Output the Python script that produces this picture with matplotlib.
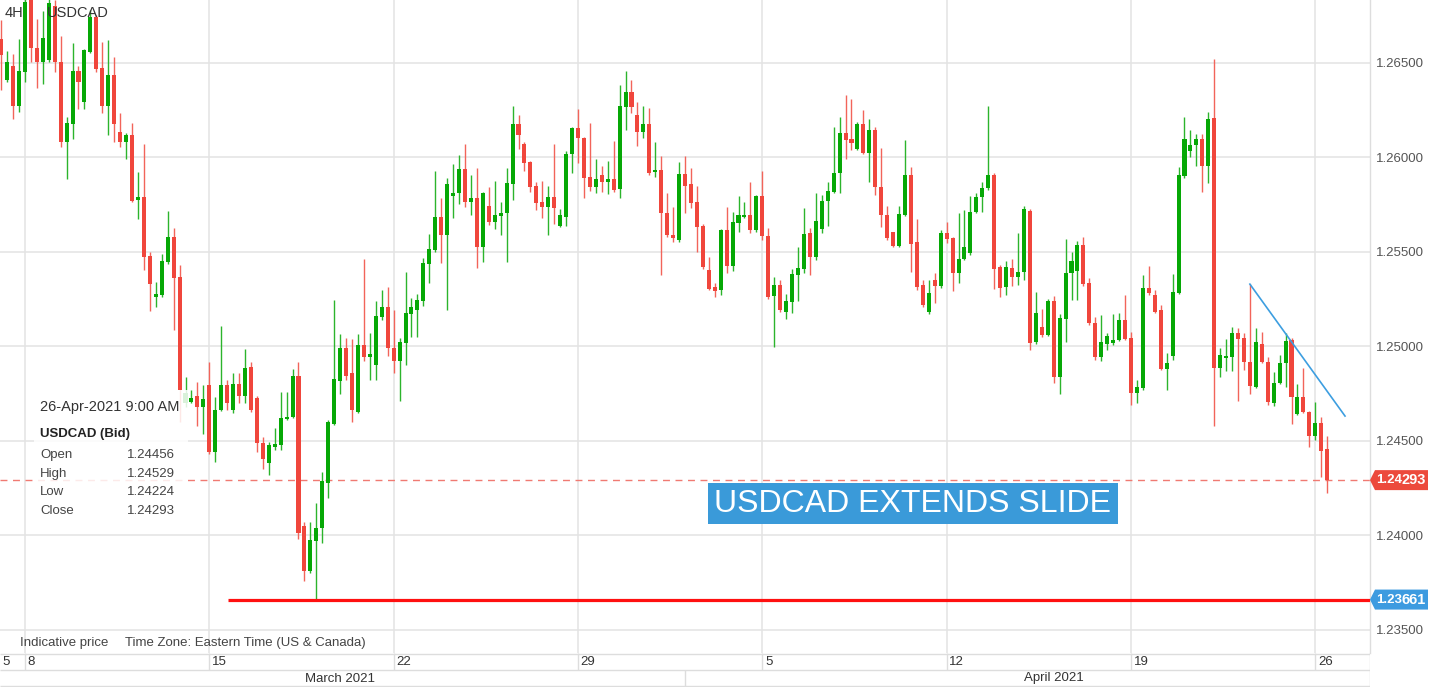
import matplotlib
matplotlib.use("Agg")
import matplotlib.pyplot as plt
from matplotlib.patches import Rectangle, Polygon
from matplotlib.transforms import IdentityTransform
import numpy as np

plt.rcParams['font.family'] = ['Liberation Sans', 'DejaVu Sans']

# 4H USDCAD candles, 5-Mar-2021 .. 26-Apr-2021 9:00 AM
opens = [
    1.26627, 1.26410, 1.26484, 1.26272, 1.26452, 1.26844, 1.26579, 1.26505, 1.26516, 1.26801,
    1.26505, 1.26082, 1.26177, 1.26457, 1.26293, 1.26558, 1.26743, 1.26473, 1.26272, 1.26436,
    1.26135, 1.26082, 1.26119, 1.25775, 1.25791, 1.25479, 1.25262, 1.25272, 1.25447, 1.25579,
    1.25367, 1.24701, 1.24706, 1.24738, 1.24680, 1.24796, 1.24441, 1.24664, 1.24796, 1.24664,
    1.24801, 1.24738, 1.24891, 1.24727, 1.24489, 1.24383, 1.24468, 1.24478, 1.24616, 1.24627,
    1.24844, 1.24050, 1.23812, 1.23971, 1.24039, 1.24277, 1.24590, 1.24817, 1.24992, 1.24859,
    1.24653, 1.25008, 1.24944, 1.24902, 1.25156, 1.25209, 1.24992, 1.24923, 1.25018, 1.25172,
    1.25193, 1.25240, 1.25436, 1.25510, 1.25685, 1.25590, 1.25796, 1.25812, 1.25939, 1.25764,
    1.25785, 1.25526, 1.25743, 1.25658, 1.25690, 1.25706, 1.25859, 1.26177, 1.26071, 1.25976,
    1.25849, 1.25764, 1.25738, 1.25791, 1.25637, 1.25685, 1.26018, 1.26156, 1.26103, 1.25896,
    1.25844, 1.25907, 1.25870, 1.25886, 1.25833, 1.26267, 1.26346, 1.26225, 1.26135, 1.26177,
    1.25923, 1.25934, 1.25706, 1.25590, 1.25563, 1.25912, 1.25859, 1.25764, 1.25637, 1.25404,
    1.25314, 1.25299, 1.25616, 1.25426, 1.25653, 1.25685, 1.25695, 1.25616, 1.25796, 1.25584,
    1.25267, 1.25325, 1.25182, 1.25235, 1.25378, 1.25410, 1.25600, 1.25473, 1.25621, 1.25770,
    1.25817, 1.25918, 1.26129, 1.26098, 1.26045, 1.26177, 1.26023, 1.26145, 1.25844, 1.25695,
    1.25605, 1.25531, 1.25695, 1.25907, 1.25553, 1.25325, 1.25182, 1.25352, 1.25320, 1.25600,
    1.25574, 1.25389, 1.25463, 1.25494, 1.25711, 1.25791, 1.25838, 1.25907, 1.25420, 1.25314,
    1.25415, 1.25367, 1.25394, 1.25717, 1.25023, 1.25103, 1.25061, 1.25240, 1.24838, 1.25145,
    1.25389, 1.25399, 1.25537, 1.25336, 1.25124, 1.24944, 1.25013, 1.25018, 1.25034, 1.25140,
    1.25045, 1.24754, 1.24780, 1.25309, 1.25272, 1.25193, 1.24881, 1.24949, 1.25283, 1.25902,
    1.26034, 1.26066, 1.26098, 1.25955, 1.26209, 1.24886, 1.24939, 1.24944, 1.25071, 1.25045,
    1.24918, 1.24785, 1.25013, 1.24918, 1.24701, 1.24807, 1.24912, 1.25034, 1.24643, 1.24732,
    1.24653, 1.24526, 1.24595, 1.24456,
]
highs = [
    1.26727, 1.26563, 1.26547, 1.26627, 1.26875, 1.26875, 1.26732, 1.26775, 1.26859, 1.26833,
    1.26643, 1.26214, 1.26605, 1.26484, 1.26574, 1.26780, 1.26754, 1.26611, 1.26621, 1.26531,
    1.26235, 1.26129, 1.26182, 1.25923, 1.26071, 1.25500, 1.25341, 1.25489, 1.25717, 1.25627,
    1.25431, 1.24838, 1.24770, 1.24812, 1.24796, 1.24918, 1.24732, 1.25108, 1.24822, 1.24859,
    1.24859, 1.24986, 1.24918, 1.24740, 1.24521, 1.24494, 1.24568, 1.24759, 1.24759, 1.24881,
    1.24918, 1.24071, 1.24071, 1.24172, 1.24336, 1.24611, 1.25246, 1.25066, 1.25045, 1.25039,
    1.25066, 1.25463, 1.25071, 1.25240, 1.25299, 1.25314, 1.25193, 1.25045, 1.25394, 1.25256,
    1.25277, 1.25468, 1.25595, 1.25928, 1.25785, 1.25891, 1.25965, 1.26013, 1.26071, 1.25907,
    1.25944, 1.25817, 1.25844, 1.25875, 1.25764, 1.25944, 1.26272, 1.26225, 1.26082, 1.25980,
    1.25870, 1.25875, 1.25849, 1.26071, 1.25727, 1.26034, 1.26161, 1.26256, 1.26110, 1.26182,
    1.25992, 1.25955, 1.25981, 1.26087, 1.26383, 1.26457, 1.26410, 1.26293, 1.26272, 1.26262,
    1.26082, 1.26008, 1.25812, 1.25738, 1.25976, 1.26008, 1.25944, 1.25849, 1.25648, 1.25473,
    1.25336, 1.25620, 1.25738, 1.25711, 1.25796, 1.25764, 1.25870, 1.25801, 1.25928, 1.25627,
    1.25367, 1.25352, 1.25277, 1.25410, 1.25526, 1.25732, 1.25627, 1.25812, 1.25801, 1.25870,
    1.26161, 1.26214, 1.26330, 1.26309, 1.26187, 1.26251, 1.26203, 1.26161, 1.26050, 1.25743,
    1.25605, 1.25743, 1.26092, 1.25949, 1.25674, 1.25352, 1.25352, 1.25389, 1.25616, 1.25658,
    1.25580, 1.25706, 1.25722, 1.25796, 1.25812, 1.25870, 1.26272, 1.25918, 1.25431, 1.25452,
    1.25463, 1.25600, 1.25743, 1.25727, 1.25288, 1.25198, 1.25251, 1.25267, 1.25172, 1.25568,
    1.25500, 1.25558, 1.25579, 1.25362, 1.25156, 1.25166, 1.25071, 1.25172, 1.25177, 1.25272,
    1.25076, 1.24822, 1.25378, 1.25426, 1.25299, 1.25219, 1.24965, 1.25383, 1.25949, 1.26214,
    1.26145, 1.26124, 1.26124, 1.26240, 1.26521, 1.24992, 1.25039, 1.25103, 1.25098, 1.25071,
    1.25330, 1.25098, 1.25076, 1.24944, 1.24865, 1.24955, 1.25071, 1.25045, 1.24801, 1.24886,
    1.24660, 1.24706, 1.24627, 1.24529,
]
lows = [
    1.26357, 1.26399, 1.26203, 1.26240, 1.26399, 1.26505, 1.26367, 1.26389, 1.26505, 1.26452,
    1.26055, 1.25886, 1.26098, 1.26256, 1.26256, 1.26553, 1.26452, 1.26235, 1.26119, 1.26082,
    1.26055, 1.25992, 1.25764, 1.25674, 1.25404, 1.25188, 1.25209, 1.25262, 1.25436, 1.25087,
    1.24600, 1.24680, 1.24701, 1.24579, 1.24537, 1.24430, 1.24389, 1.24660, 1.24664, 1.24648,
    1.24701, 1.24701, 1.24653, 1.24441, 1.24352, 1.24320, 1.24452, 1.24452, 1.24611, 1.24620,
    1.23981, 1.23759, 1.23801, 1.23661, 1.23960, 1.24198, 1.24585, 1.24748, 1.24822, 1.24600,
    1.24648, 1.24923, 1.24822, 1.24822, 1.25140, 1.24949, 1.24859, 1.24711, 1.24902, 1.25050,
    1.25050, 1.25214, 1.25336, 1.25500, 1.25441, 1.25193, 1.25680, 1.25754, 1.25738, 1.25695,
    1.25415, 1.25447, 1.25643, 1.25621, 1.25590, 1.25447, 1.25775, 1.26045, 1.25928, 1.25817,
    1.25722, 1.25680, 1.25590, 1.25648, 1.25630, 1.25637, 1.25918, 1.25971, 1.25785, 1.25822,
    1.25812, 1.25817, 1.25807, 1.25820, 1.25785, 1.26145, 1.26235, 1.26061, 1.26103, 1.25907,
    1.25896, 1.25378, 1.25579, 1.25553, 1.25553, 1.25706, 1.25732, 1.25500, 1.25410, 1.25300,
    1.25262, 1.25272, 1.25389, 1.25399, 1.25605, 1.25680, 1.25600, 1.25605, 1.25563, 1.25251,
    1.24997, 1.25182, 1.25145, 1.25177, 1.25240, 1.25389, 1.25378, 1.25457, 1.25600, 1.25637,
    1.25812, 1.25812, 1.25992, 1.26039, 1.26039, 1.26020, 1.25870, 1.25801, 1.25632, 1.25563,
    1.25526, 1.25526, 1.25690, 1.25394, 1.25299, 1.25209, 1.25172, 1.25230, 1.25309, 1.25547,
    1.25293, 1.25336, 1.25460, 1.25484, 1.25706, 1.25711, 1.25828, 1.25304, 1.25262, 1.25272,
    1.25320, 1.25325, 1.25352, 1.24981, 1.25013, 1.25050, 1.25055, 1.24807, 1.24748, 1.25023,
    1.25246, 1.25246, 1.25320, 1.25113, 1.24928, 1.24923, 1.24981, 1.25008, 1.25029, 1.25034,
    1.24690, 1.24701, 1.24770, 1.25272, 1.25177, 1.24875, 1.24770, 1.24928, 1.25277, 1.25891,
    1.26002, 1.25955, 1.25817, 1.25865, 1.24579, 1.24838, 1.24870, 1.24870, 1.24711, 1.24875,
    1.24748, 1.24780, 1.24912, 1.24690, 1.24685, 1.24801, 1.24785, 1.24590, 1.24637, 1.24648,
    1.24468, 1.24505, 1.24309, 1.24224,
]
closes = [
    1.26542, 1.26505, 1.26272, 1.26457, 1.26822, 1.26579, 1.26505, 1.26632, 1.26817, 1.26505,
    1.26082, 1.26182, 1.26457, 1.26399, 1.26568, 1.26743, 1.26468, 1.26272, 1.26436, 1.26177,
    1.26082, 1.26119, 1.25770, 1.25791, 1.25473, 1.25330, 1.25277, 1.25452, 1.25579, 1.25362,
    1.24770, 1.24754, 1.24727, 1.24680, 1.24722, 1.24441, 1.24664, 1.24796, 1.24701, 1.24801,
    1.24738, 1.24886, 1.24664, 1.24489, 1.24404, 1.24478, 1.24484, 1.24621, 1.24627, 1.24844,
    1.24013, 1.23812, 1.23976, 1.24039, 1.24288, 1.24600, 1.24828, 1.24992, 1.24844, 1.24664,
    1.25008, 1.24944, 1.24960, 1.25161, 1.25209, 1.24992, 1.24923, 1.25023, 1.25177, 1.25209,
    1.25246, 1.25441, 1.25516, 1.25685, 1.25590, 1.25859, 1.25812, 1.25939, 1.25764, 1.25785,
    1.25526, 1.25812, 1.25658, 1.25695, 1.25706, 1.25865, 1.26177, 1.26119, 1.25971, 1.25844,
    1.25759, 1.25738, 1.25791, 1.25732, 1.25695, 1.26018, 1.26156, 1.26103, 1.25891, 1.25844,
    1.25886, 1.25870, 1.25886, 1.25828, 1.26272, 1.26346, 1.26267, 1.26135, 1.26177, 1.25918,
    1.25934, 1.25706, 1.25590, 1.25574, 1.25912, 1.25849, 1.25759, 1.25632, 1.25420, 1.25304,
    1.25293, 1.25616, 1.25426, 1.25658, 1.25695, 1.25695, 1.25616, 1.25796, 1.25584, 1.25262,
    1.25325, 1.25193, 1.25240, 1.25383, 1.25415, 1.25595, 1.25473, 1.25664, 1.25770, 1.25822,
    1.25918, 1.26129, 1.26092, 1.26076, 1.26177, 1.26023, 1.26145, 1.25844, 1.25695, 1.25574,
    1.25531, 1.25701, 1.25907, 1.25542, 1.25314, 1.25219, 1.25283, 1.25320, 1.25600, 1.25568,
    1.25389, 1.25463, 1.25526, 1.25711, 1.25791, 1.25838, 1.25907, 1.25410, 1.25309, 1.25420,
    1.25367, 1.25394, 1.25727, 1.25018, 1.25177, 1.25061, 1.25240, 1.24838, 1.25150, 1.25389,
    1.25452, 1.25537, 1.25330, 1.25124, 1.24944, 1.25023, 1.25055, 1.25034, 1.25140, 1.25039,
    1.24754, 1.24785, 1.25309, 1.25283, 1.25182, 1.24881, 1.24912, 1.25288, 1.25907, 1.26098,
    1.26066, 1.26098, 1.25955, 1.26203, 1.24886, 1.24955, 1.24949, 1.25071, 1.25039, 1.24918,
    1.24791, 1.25023, 1.24918, 1.24706, 1.24807, 1.24912, 1.25029, 1.24732, 1.24732, 1.24653,
    1.24526, 1.24595, 1.24447, 1.24293,
]

# candle index of each Monday (week start) and its day label
week_idx = [4, 35, 66, 97, 128, 159, 190, 221]
week_labels = ['8', '15', '22', '29', '5', '12', '19', '26']
month_break = 115           # 1-Apr-2021
months = ['March 2021', 'April 2021']
month_centers = [57, 177]
price_ticks = [1.235, 1.240, 1.245, 1.250, 1.255, 1.260, 1.265]

support = 1.23661
trend_x = [210.0, 226.0]
trend_y = [1.25330, 1.24632]

tip_rows = [('Open', '1.24456'), ('High', '1.24529'), ('Low', '1.24224'), ('Close', '1.24293')]

GREEN = '#06a806'
RED = '#f0463c'
GRID = '#e3e3e3'

W, H = 1430, 687
fig = plt.figure(figsize=(W / 100, H / 100), dpi=100)
fig.patch.set_facecolor('white')

ax = fig.add_axes([0, 34 / H, 1370 / W, 653 / H])
xlo, xhi = -0.2, 230.2
ax.set_xlim(xlo, xhi)
ax.set_ylim(1.233783, 1.268333)

o = np.array(opens)
c = np.array(closes)
hi = np.array(highs)
lo = np.array(lows)
x = np.arange(len(o))
up = c >= o
body_col = np.where(up, GREEN, RED)
wick_col = np.where(up, '#2cb42c', '#f2645a')

for p in price_ticks:
    ax.axhline(p, color=GRID, lw=1.1, zorder=0)
for w in week_idx:
    ax.axvline(w, color=GRID, lw=1.1, zorder=0)

ax.vlines(x, lo, hi, colors=wick_col, lw=1.0, zorder=2)
ax.bar(x, np.maximum(np.abs(c - o), 0.00004), bottom=np.minimum(o, c),
       width=0.68, color=body_col, linewidth=0, zorder=3)

ax.axhline(closes[-1], color='#f07a72', lw=1.0, ls=(0, (5, 4)), zorder=1)
ax.hlines(support, 38.1, xhi, color='#ff1010', lw=2.3, zorder=4)
ax.plot(trend_x, trend_y, color='#3d9ee0', lw=1.2, zorder=4)

ax.yaxis.tick_right()
ax.set_yticks(price_ticks)
ax.set_yticklabels([f'{p:.5f}' for p in price_ticks])
ax.tick_params(axis='y', length=0, pad=4, labelsize=9.5, labelcolor='#555555')
ax.tick_params(axis='x', bottom=False, labelbottom=False)
for s in ['top', 'left', 'bottom']:
    ax.spines[s].set_visible(False)
ax.spines['right'].set_color('#dddddd')
ax.spines['right'].set_linewidth(1.0)

# bottom date strip
ax2 = fig.add_axes([0, 0, 1370 / W, 34 / H])
ax2.set_xlim(xlo, xhi)
ax2.set_ylim(687, 653)
ax2.axis('off')
ax2.hlines([653.5, 670, 686], xlo, xhi, color='#dddddd', lw=1.0)
ax2.vlines(week_idx, 653, 670, color='#dddddd', lw=1.0)
ax2.vlines([month_break, xhi - 0.05], [670, 653], [686, 686], color='#dddddd', lw=1.0)
ax2.text(0.15, 662, '5', fontsize=9.5, color='#333333', va='center', ha='left')
for w, lab in zip(week_idx, week_labels):
    ax2.text(w + 0.45, 662, lab, fontsize=9.5, color='#333333', va='center', ha='left')
for mc, lab in zip(month_centers, months):
    ax2.text(mc, 678.5, lab, fontsize=9.5, color='#333333', va='center', ha='center')


def fx(px):
    return px / W


def fy(py):
    return 1 - py / H


fig.text(fx(5), fy(13), '4H', fontsize=10.5, color='#333333', va='center')
fig.text(fx(47), fy(13), 'USDCAD', fontsize=10.5, color='#333333', va='center')
fig.text(fx(20), fy(643), 'Indicative price', fontsize=9.5, color='#444444', va='center')
fig.text(fx(125), fy(643), 'Time Zone: Eastern Time (US & Canada)', fontsize=9.5,
         color='#444444', va='center')

# crosshair tooltip
fig.add_artist(Rectangle((fx(34), fy(528)), 154 / W, 138 / H, transform=fig.transFigure,
                         facecolor='white', alpha=0.85, edgecolor='none', zorder=5))
fig.text(fx(40), fy(407), '26-Apr-2021 9:00 AM', fontsize=10.5, color='#333333',
         va='center', zorder=6)
fig.text(fx(40), fy(434), 'USDCAD (Bid)', fontsize=9.5, color='#222222', weight='bold',
         va='center', zorder=6)
for k, (name, val) in enumerate(tip_rows):
    yy = 455 + k * 18.7
    fig.text(fx(40), fy(yy), name, fontsize=9.5, color='#444444', va='center', zorder=6)
    fig.text(fx(127), fy(yy), val, fontsize=9.5, color='#444444', va='center', zorder=6)

# headline banner
fig.add_artist(Rectangle((fx(708), fy(524)), 410 / W, 41 / H, transform=fig.transFigure,
                         facecolor='#3a9ad9', edgecolor='none', zorder=5))
fig.text(fx(913), fy(504), 'USDCAD EXTENDS SLIDE', fontsize=23, color='white',
         ha='center', va='center', zorder=6)


# price tags on the right axis
def price_tag(price, color):
    yd = ax.transData.transform((0, price))[1]
    pts = [(1370, yd), (1375, yd + 10), (1428, yd + 10), (1428, yd - 10), (1375, yd - 10)]
    fig.add_artist(Polygon(pts, closed=True, transform=IdentityTransform(),
                           facecolor=color, edgecolor='none', zorder=5))
    s = f'{price:.5f}'
    fig.text(1376 / W, yd / H, s[:4], fontsize=9.5, color='white', weight='bold',
             va='center', zorder=6)
    fig.text(1402 / W, yd / H, s[4:], fontsize=10.5, color='white', weight='bold',
             va='center', zorder=6)


price_tag(closes[-1], '#ec4a3c')
price_tag(support, '#3d9be0')

fig.savefig('out.png', dpi=100)
